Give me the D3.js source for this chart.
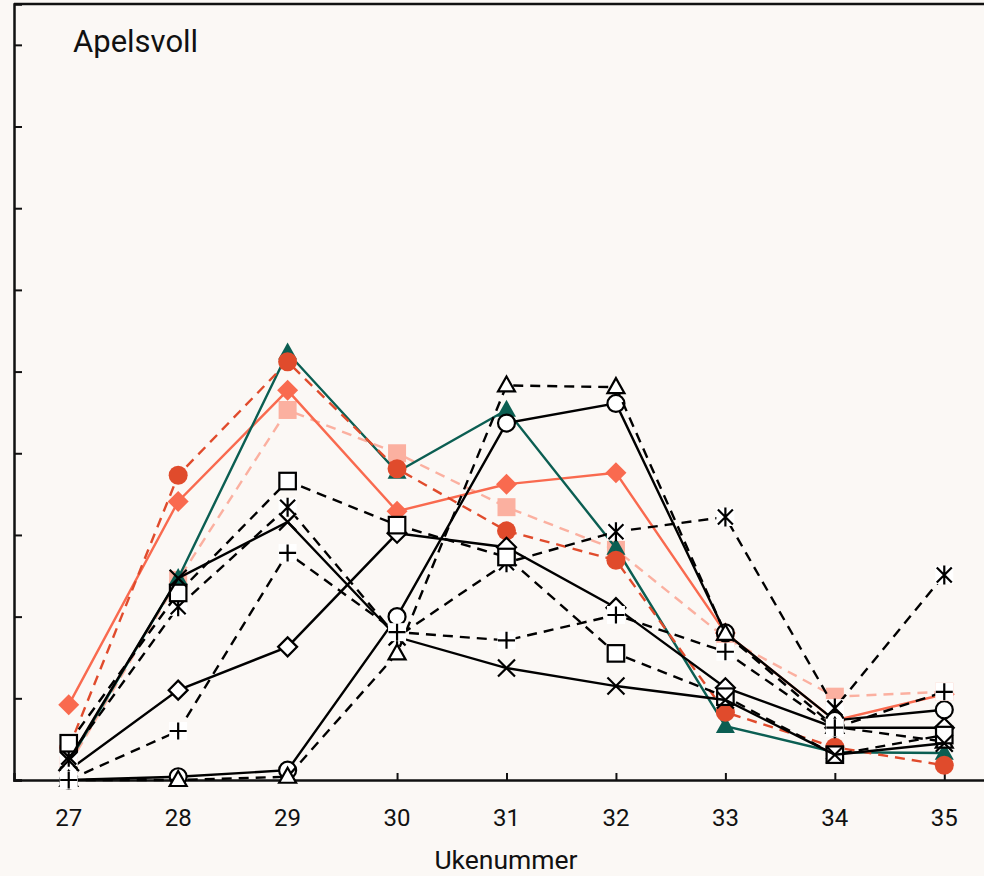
<!DOCTYPE html>
<html><head><meta charset="utf-8">
<script src="https://cdn.jsdelivr.net/npm/d3@7"></script>
<style>
html,body{margin:0;padding:0;background:#fbf8f5;}
text{font-family:Roboto,"Noto Sans",sans-serif;fill:#111;}
</style></head>
<body>
<svg id="chart" width="984" height="876"></svg>
<script>
const title = "Apelsvoll";
const xLabel = "Ukenummer";
const weeks = [27, 28, 29, 30, 31, 32, 33, 34, 35];
const yTicks = [0, 10, 20, 30, 40, 50, 60, 70, 80, 90];

const serGreenTri   = [2.2, 24.7, 52.3, 37.7, 45.3, 28.4, 6.6, 3.4, 3.3];
const serRedCircle  = [3.9, 37.3, 51.2, 38.1, 30.5, 26.9, 8.3, 4.0, 1.8];
const serSalmonDiam = [9.2, 34.1, 47.7, 32.9, 36.2, 37.6, 18.0, 7.3, 10.5];
const serPinkSquare = [1.8, 24.5, 45.3, 40.0, 33.4, 28.2, 17.4, 10.2, 10.8];
const serOpenCircle = [0, 0.4, 1.2, 20.0, 43.7, 46.1, 18.0, 7.3, 8.6];
const serOpenTri    = [0, 0, 0.4, 15.5, 48.3, 48.1, 17.9, 6.5, 4.7];
const serOpenSquare = [4.5, 22.9, 36.6, 31.2, 27.3, 15.5, 10.2, 3.1, 5.5];
const serOpenDiam   = [1.2, 11.0, 16.3, 30.2, 28.5, 21.1, 11.3, 6.4, 6.4];
const serAsterisk   = [2.8, 21.2, 33.4, 17.5, 26.6, 30.4, 32.2, 8.8, 25.1];
const serPlus       = [0, 6.0, 27.8, 18.1, 17.1, 20.2, 15.7, 6.4, 10.8];
const serCross      = [2.4, 24.7, 31.6, 17.5, 13.7, 11.5, 9.8, 3.1, 4.5];

// drawing order bottom -> top
const series = [
  {values: serPinkSquare, color: "#fbb0a0", dash: "10,7", marker: "square", fill: true},
  {values: serSalmonDiam, color: "#f96a4f", dash: null, marker: "diamond", fill: true},
  {values: serGreenTri,   color: "#0b5e52", dash: null, marker: "triangle", fill: true},
  {values: serRedCircle,  color: "#e04b2c", dash: "10,7", marker: "circle", fill: true},
  {values: serOpenDiam,   color: "#000", dash: null, marker: "diamond", fill: false},
  {values: serAsterisk,   color: "#000", dash: "10,7", marker: "asterisk", fill: false},
  {values: serOpenCircle, color: "#000", dash: null, marker: "circle", fill: false},
  {values: serOpenTri,    color: "#000", dash: "10,7", marker: "triangle", fill: false},
  {values: serOpenSquare, color: "#000", dash: "10,7", marker: "square", fill: false},
  {values: serCross,      color: "#000", dash: null, marker: "cross", fill: false},
  {values: serPlus,       color: "#000", dash: "10,7", marker: "plus", fill: false}
];

const bg = "#fbf8f5";
const svg = d3.select("#chart");
svg.append("rect").attr("width", 984).attr("height", 876).attr("fill", bg);

const x = d3.scaleLinear().domain([26.5, 35.5]).range([14, 999]);
const y = d3.scaleLinear().domain([0, 95]).range([780, 4]);

// frame
svg.append("line").attr("x1", 14).attr("x2", 999).attr("y1", 4).attr("y2", 4)
  .attr("stroke", "#111").attr("stroke-width", 2.5);

// y axis (ticks inward, no labels)
const yAxis = d3.axisRight(y).tickValues(yTicks).tickSize(8).tickFormat("");
const gy = svg.append("g").attr("transform", "translate(14,0)").call(yAxis);
gy.select(".domain").attr("stroke", "#111").attr("stroke-width", 2.5);
gy.selectAll(".tick line").attr("stroke", "#111").attr("stroke-width", 2);

// x axis (ticks inward)
const xAxis = d3.axisTop(x).tickValues(weeks).tickSize(7).tickFormat("");
const gx = svg.append("g").attr("transform", "translate(0,780)").call(xAxis);
gx.select(".domain").attr("stroke", "#111").attr("stroke-width", 2.5);
gx.selectAll(".tick line").attr("stroke", "#111").attr("stroke-width", 2);

svg.append("g").selectAll("text").data(weeks).join("text")
  .attr("x", d => x(d)).attr("y", 826).attr("text-anchor", "middle")
  .attr("font-size", 24).text(d => d);

svg.append("text").attr("x", 506).attr("y", 869).attr("text-anchor", "middle")
  .attr("font-size", 26.5).text(xLabel);

svg.append("text").attr("x", 73).attr("y", 52).attr("font-size", 31).text(title);

const line = d3.line().x((d, i) => x(weeks[i])).y(d => y(d));

function drawMarker(g, m, cx, cy, color, fill) {
  const f = fill ? color : "#ffffff";
  const sw = 2.2;
  if (m === "circle") {
    g.append("circle").attr("cx", cx).attr("cy", cy).attr("r", fill ? 9.5 : 8.5)
      .attr("fill", f).attr("stroke", fill ? "none" : color).attr("stroke-width", sw);
  } else if (m === "square") {
    const s = fill ? 18 : 16.5;
    g.append("rect").attr("x", cx - s/2).attr("y", cy - s/2).attr("width", s).attr("height", s)
      .attr("fill", f).attr("stroke", fill ? "none" : color).attr("stroke-width", sw);
  } else if (m === "diamond") {
    const r = fill ? 10.5 : 9.5;
    g.append("path").attr("d", `M${cx},${cy-r}L${cx+r},${cy}L${cx},${cy+r}L${cx-r},${cy}Z`)
      .attr("fill", f).attr("stroke", fill ? "none" : color).attr("stroke-width", sw);
  } else if (m === "triangle") {
    const w = fill ? 9.5 : 8.5, h = fill ? 17 : 15;
    g.append("path").attr("d", `M${cx},${cy - h*0.6}L${cx+w},${cy + h*0.4}L${cx-w},${cy + h*0.4}Z`)
      .attr("fill", f).attr("stroke", fill ? "none" : color).attr("stroke-width", sw);
  } else if (m === "plus") {
    g.append("rect").attr("x", cx - 9).attr("y", cy - 9).attr("width", 18).attr("height", 18).attr("fill", "#fff");
    g.append("path").attr("d", `M${cx-8.5},${cy}H${cx+8.5}M${cx},${cy-8.5}V${cy+8.5}`)
      .attr("stroke", color).attr("stroke-width", sw).attr("fill", "none");
  } else if (m === "asterisk") {
    g.append("rect").attr("x", cx - 9).attr("y", cy - 9).attr("width", 18).attr("height", 18).attr("fill", "#fff");
    g.append("path").attr("d", `M${cx-7.5},${cy-7.5}L${cx+7.5},${cy+7.5}M${cx+7.5},${cy-7.5}L${cx-7.5},${cy+7.5}M${cx},${cy-9.5}V${cy+9.5}`)
      .attr("stroke", color).attr("stroke-width", sw).attr("fill", "none");
  } else if (m === "cross") {
    g.append("path").attr("d", `M${cx-8.5},${cy-8.5}L${cx+8.5},${cy+8.5}M${cx+8.5},${cy-8.5}L${cx-8.5},${cy+8.5}`)
      .attr("stroke", color).attr("stroke-width", sw).attr("fill", "none");
  }
}

series.forEach(s => {
  const g = svg.append("g");
  g.append("path").attr("d", line(s.values)).attr("fill", "none")
    .attr("stroke", s.color).attr("stroke-width", 2.4)
    .attr("stroke-dasharray", s.dash);
  s.values.forEach((v, i) => drawMarker(g, s.marker, x(weeks[i]), y(v), s.color, s.fill));
});
</script>
</body></html>
